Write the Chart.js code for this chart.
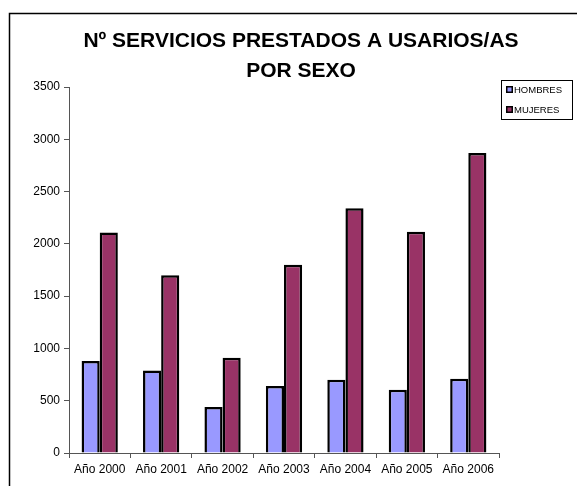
<!DOCTYPE html>
<html>
<head>
<meta charset="utf-8">
<title>Nº servicios prestados</title>
<script src="https://cdn.jsdelivr.net/npm/chart.js@4.4.0/dist/chart.umd.min.js"></script>
<style>
    body { margin: 0; background: #fff; }
    #wrap { width: 577px; height: 486px; }
</style>
</head>
<body>
<div id="wrap"><canvas id="servicios"></canvas></div>
<script>
// data
let years = ['Año 2000', 'Año 2001', 'Año 2002', 'Año 2003', 'Año 2004', 'Año 2005', 'Año 2006'];
let hombres = [880, 790, 440, 640, 700, 605, 710];
let mujeres = [2110, 1700, 910, 1800, 2340, 2115, 2870];
let yTicks = [0, 500, 1000, 1500, 2000, 2500, 3000, 3500];

const fontFamily = "'Liberation Sans', Arial, sans-serif";

// frame round the whole chart (it runs off the right and bottom)
const framePlugin = {
    id: 'frame',
    beforeDraw(chart) {
        const ctx = chart.ctx;
        ctx.save();
        ctx.strokeStyle = '#000';
        ctx.lineWidth = 1.5;
        ctx.strokeRect(9.5, 13.5, 700, 700);
        ctx.restore();
    }
};

// the small boxed legend on the right
const boxLegend = {
    id: 'boxLegend',
    afterDraw(chart) {
        const ctx = chart.ctx;
        ctx.save();
        ctx.strokeStyle = '#000';
        ctx.lineWidth = 1;
        ctx.strokeRect(501.5, 80.5, 71, 39);
        ctx.font = '9.5px ' + fontFamily;
        ctx.textBaseline = 'middle';
        chart.data.datasets.forEach((ds, i) => {
            let y = 89.5 + i * 20;
            ctx.fillStyle = '#000';
            ctx.fillRect(506, y - 3.5, 7, 7);
            ctx.fillStyle = ds.backgroundColor;
            ctx.fillRect(507.5, y - 2, 4, 4);
            ctx.fillStyle = '#000';
            ctx.fillText(ds.label, 514, y + 0.5);
        });
        ctx.restore();
    }
};

var ctx = document.getElementById('servicios').getContext('2d');
var chart = new Chart(ctx, {
    type: 'bar',
    data: {
        labels: years,
        datasets: [{
            label: 'HOMBRES',
            data: hombres,
            backgroundColor: '#9999FF',
            borderColor: '#000',
            borderWidth: 2.5,
            borderSkipped: 'bottom'
        }, {
            label: 'MUJERES',
            data: mujeres,
            backgroundColor: '#993366',
            borderColor: '#000',
            borderWidth: 2.5,
            borderSkipped: 'bottom'
        }]
    },
    options: {
        responsive: true,
        maintainAspectRatio: false,
        animation: false,
        layout: { padding: { left: 25, right: 0, top: 0, bottom: 0 } },
        datasets: {
            bar: { categoryPercentage: 0.59, barPercentage: 1 }
        },
        plugins: {
            legend: { display: false },
            tooltip: { enabled: false },
            title: {
                display: true,
                text: ['Nº SERVICIOS PRESTADOS A USARIOS/AS', 'POR SEXO'],
                color: '#000',
                font: { family: fontFamily, size: 21, weight: 'bold', lineHeight: 1.43 },
                padding: { top: 26, bottom: 1 }
            }
        },
        scales: {
            x: {
                grid: { offset: true, drawOnChartArea: false, drawTicks: true, tickLength: 5, color: '#555' },
                border: { color: '#555', width: 1 },
                ticks: { color: '#000', font: { family: fontFamily, size: 12 }, padding: 4, maxRotation: 0 },
                afterFit(scale) { scale.height = 33; }
            },
            y: {
                min: 0,
                max: 3500,
                afterBuildTicks(scale) { scale.ticks = yTicks.map(v => ({ value: v })); },
                grid: { drawOnChartArea: false, drawTicks: true, tickLength: 5, color: '#555' },
                border: { color: '#555', width: 1 },
                ticks: {
                    color: '#000',
                    font: { family: fontFamily, size: 12 },
                    padding: 4,
                    callback: v => String(v)
                },
                afterFit(scale) { scale.width = 44; }
            },
            // empty axis on the right only to keep room for the legend box
            spacer: {
                position: 'right',
                display: true,
                grid: { display: false },
                border: { display: false },
                ticks: { display: false },
                afterFit(scale) { scale.width = 78; }
            }
        }
    },
    plugins: [framePlugin, boxLegend]
});
</script>
</body>
</html>
